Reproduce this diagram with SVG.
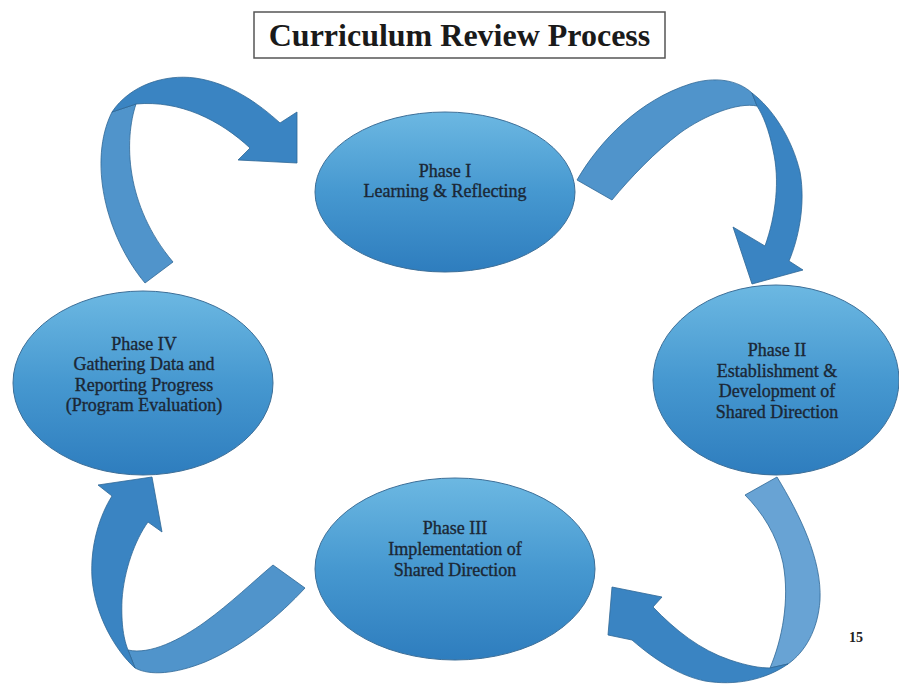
<svg xmlns="http://www.w3.org/2000/svg" width="899" height="686" viewBox="0 0 899 686">
<defs>
<linearGradient id="eg" x1="0" y1="0" x2="0" y2="1">
<stop offset="0" stop-color="#6cb8e2"/>
<stop offset="0.5" stop-color="#4698d0"/>
<stop offset="1" stop-color="#2e7dbe"/>
</linearGradient>
<style>
.node ellipse{fill:url(#eg);stroke:#3d6f98;stroke-width:1}
.node text{font-family:"Liberation Serif","Times New Roman",serif;font-size:18px;fill:#1b2735;stroke:#1b2735;stroke-width:0.35;text-anchor:middle}
.tail{fill:#5094cb;stroke:#2f6796;stroke-width:0.8;stroke-linejoin:round}
.head{fill:#3a84c2;stroke:#2f6796;stroke-width:0.8;stroke-linejoin:round}
.title{font-family:"Liberation Serif","Times New Roman",serif;font-size:32px;font-weight:bold;fill:#1a1a1a;text-anchor:middle}
</style>
</defs>
<rect width="899" height="686" fill="#ffffff"/>
<g id="title">
<rect x="254" y="12" width="411" height="46" fill="#ffffff" stroke="#555555" stroke-width="1.5"/>
<text class="title" x="459.5" y="46">Curriculum Review Process</text>
</g>
<g id="connectors">
<g id="arrow-iv-i">
<path class="tail" d="M145,283 C105,235 88,160 112,112 L136,104 C124,140 125,205 173,262 Z"/>
<path class="head" d="M112,112 C130,85 165,74 195,78 C230,83 258,103 280,123 L297,112 L297,163 L238,160 L250,148 C220,120 180,100 136,104 Z"/>
</g>
<g id="arrow-i-ii">
<path class="tail" d="M577,180 C600,140 640,100 690,84 C715,76 738,80 752,93 L757,106 C738,102 705,115 680,133 C655,152 630,178 612,200 Z"/>
<path class="head" d="M752,93 C772,108 792,138 800,172 C806,205 798,240 789,261 L803,270 L752,284 L733,227 L765,246 C776,215 780,180 773,150 C769,130 763,115 757,106 Z"/>
</g>
<g id="arrow-ii-iii">
<path class="tail" style="fill:#68a3d4" d="M777,477 C800,515 822,560 820,600 C818,630 805,652 788,664 L770,668 C782,640 790,600 783,563 C777,535 762,512 745,495 Z"/>
<path class="head" d="M788,664 C765,680 735,686 705,681 C680,676 655,660 632,640 L608,635 L612,587 L662,597 L653,607 C675,630 700,650 730,660 C748,666 760,668 770,668 Z"/>
</g>
<g id="arrow-iii-iv">
<path class="tail" d="M305,588 C280,615 245,645 205,662 C175,674 150,676 135,668 L128,650 C150,655 180,640 205,622 C230,604 255,580 273,565 Z"/>
<path class="head" d="M135,668 C115,650 95,615 92,578 C90,545 100,515 112,496 L98,485 L152,477 L162,532 L148,522 C135,540 124,570 122,600 C121,625 124,640 128,650 Z"/>
</g>
</g>
<g id="phase1" class="node">
<ellipse cx="445" cy="192" rx="130" ry="80"/>
<text x="445" y="177">Phase I</text>
<text x="445" y="197">Learning &amp; Reflecting</text>
</g>
<g id="phase2" class="node">
<ellipse cx="776" cy="380" rx="123" ry="95"/>
<text x="777" y="356">Phase II</text>
<text x="777" y="377">Establishment &amp;</text>
<text x="777" y="397">Development of</text>
<text x="777" y="418">Shared Direction</text>
</g>
<g id="phase3" class="node">
<ellipse cx="455" cy="569" rx="140" ry="91"/>
<text x="455" y="534">Phase III</text>
<text x="455" y="555">Implementation of</text>
<text x="455" y="576">Shared Direction</text>
</g>
<g id="phase4" class="node">
<ellipse cx="143" cy="383" rx="130" ry="92"/>
<text x="144" y="350">Phase IV</text>
<text x="144" y="370">Gathering Data and</text>
<text x="144" y="391">Reporting Progress</text>
<text x="144" y="411">(Program Evaluation)</text>
</g>
<text x="856" y="642" style="font-family:'Liberation Serif','Times New Roman',serif;font-size:14px;font-weight:bold;fill:#222;text-anchor:middle">15</text>
</svg>
